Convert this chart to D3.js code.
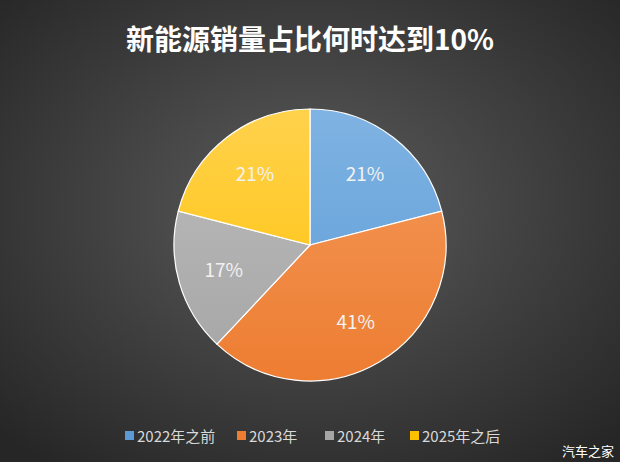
<!DOCTYPE html><html><head><meta charset="utf-8">
<script src="https://cdn.jsdelivr.net/npm/d3@7"></script>
<style>body{margin:0;background:#333}svg{display:block}</style></head><body>
<svg id="c" width="620" height="462"></svg>
<script>
const categories=["2022年之前","2023年","2024年","2025年之后"];
const values=[21,41,17,21];
const colors=["#5b9bd5","#ed7d31","#a5a5a5","#ffc000"];
const light=["#7fb3e3","#f49a5c","#bdbdbd","#ffd24d"];
const svg=d3.select("#c");
const defs=svg.append("defs");
const bg=defs.append("radialGradient").attr("id","bg").attr("cx","50%").attr("cy","45%").attr("r","70%");
bg.append("stop").attr("offset","0%").attr("stop-color","#5c5c5c");
bg.append("stop").attr("offset","100%").attr("stop-color","#262626");
svg.append("rect").attr("width",620).attr("height",462).attr("fill","url(#bg)");
colors.forEach((c,i)=>{const g=defs.append("linearGradient").attr("id","g"+i).attr("gradientUnits","userSpaceOnUse").attr("x1",0).attr("y1",-136).attr("x2",0).attr("y2",136);
g.append("stop").attr("offset","0%").attr("stop-color",light[i]);g.append("stop").attr("offset","100%").attr("stop-color",c);});
svg.append("text").attr("x",310).attr("y",50).attr("text-anchor","middle").attr("fill","#fff").attr("font-size",28).attr("font-weight","bold").attr("font-family","Noto Sans CJK SC").text("新能源销量占比何时达到10%");
const r=136,cx=310,cy=245;
const pie=d3.pie().sort(null)(values);
const arc=d3.arc().innerRadius(0).outerRadius(r);
const lab=d3.arc().innerRadius(r*0.66).outerRadius(r*0.66);
const g=svg.append("g").attr("transform",`translate(${cx},${cy})`);
g.selectAll("path").data(pie).join("path").attr("d",arc).attr("fill",(d,i)=>`url(#g${i})`).attr("stroke","#fff").attr("stroke-width",1.2);
g.selectAll("text").data(pie).join("text").attr("transform",d=>`translate(${lab.centroid(d)})`).attr("text-anchor","middle").attr("dy","0.35em").attr("fill","#f2f2f2").attr("font-size",19).attr("font-family","Noto Sans CJK SC").text(d=>d.data+"%");
const lx=[125,237,325,410];
const lg=svg.append("g").attr("font-family","Noto Sans CJK SC").attr("font-size",15);
categories.forEach((c,i)=>{lg.append("rect").attr("x",lx[i]).attr("y",431).attr("width",9).attr("height",9).attr("fill",colors[i]);
lg.append("text").attr("x",lx[i]+12).attr("y",442).attr("fill","#d9d9d9").text(c);});
svg.append("text").attr("x",614).attr("y",456).attr("text-anchor","end").attr("fill","#fff").attr("font-size",13).attr("font-family","Noto Sans CJK SC").text("汽车之家");
</script></body></html>
